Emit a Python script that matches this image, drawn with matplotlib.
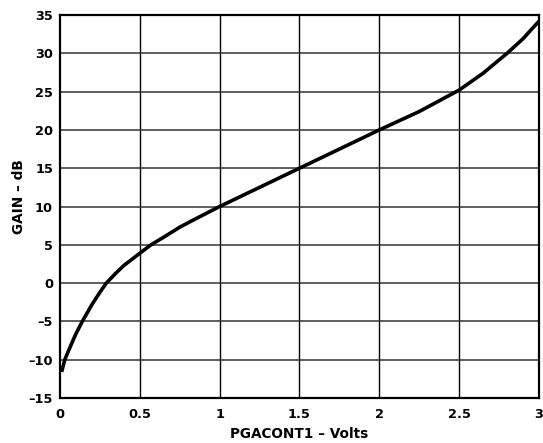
import matplotlib
matplotlib.use("Agg")
import matplotlib.pyplot as plt

volts = [0.01, 0.03, 0.056, 0.1, 0.14, 0.2, 0.25, 0.29, 0.35, 0.4, 0.5, 0.57, 0.65,
         0.75, 0.85, 1.0, 1.25, 1.5, 1.75, 2.0, 2.25, 2.5, 2.65, 2.8, 2.9, 3.0]
gain_db = [-11.6, -10.0, -8.7, -6.6, -5.0, -2.8, -1.2, 0.0, 1.3, 2.3, 3.9, 5.0, 6.0,
           7.3, 8.4, 10.0, 12.5, 15.0, 17.5, 20.0, 22.4, 25.2, 27.4, 30.0, 31.9, 34.2]

x_ticks = [0, 0.5, 1, 1.5, 2, 2.5, 3]
x_tick_labels = ["0", "0.5", "1", "1.5", "2", "2.5", "3"]
y_ticks = [-15, -10, -5, 0, 5, 10, 15, 20, 25, 30, 35]
y_tick_labels = ["\u201315", "\u201310", "\u20135", "0", "5", "10", "15", "20", "25", "30", "35"]

plt.rcParams["font.family"] = ["DejaVu Sans"]

fig = plt.figure(figsize=(5.43, 4.43), dpi=100)
ax = fig.add_axes([0.1105, 0.1016, 0.8821, 0.8645])

ax.plot(volts, gain_db, color="black", lw=2.6, solid_capstyle="butt", zorder=3)

ax.set_xlim(0, 3)
ax.set_ylim(-15, 35)
ax.set_xticks(x_ticks)
ax.set_xticklabels(x_tick_labels, fontsize=9.3, fontweight="bold")
ax.set_yticks(y_ticks)
ax.set_yticklabels(y_tick_labels, fontsize=9.3, fontweight="bold")
ax.tick_params(length=0)
ax.tick_params(axis="x", pad=7.5)
ax.tick_params(axis="y", pad=5)

for v in x_ticks[1:-1]:
    ax.axvline(v, color="black", lw=1.0, zorder=1)
for v in y_ticks[1:-1]:
    ax.axhline(v, color="#333333", lw=1.1, zorder=1)

for s in ax.spines.values():
    s.set_linewidth(1.6)
    s.set_color("black")

ax.set_xlabel("PGACONT1 \u2013 Volts", fontsize=9.8, fontweight="bold")
ax.set_ylabel("GAIN \u2013 dB", fontsize=9.8, fontweight="bold")
ax.xaxis.set_label_coords(0.5, -0.075)
ax.yaxis.set_label_coords(-0.071, 0.526)

fig.savefig("out.png", dpi=100)
